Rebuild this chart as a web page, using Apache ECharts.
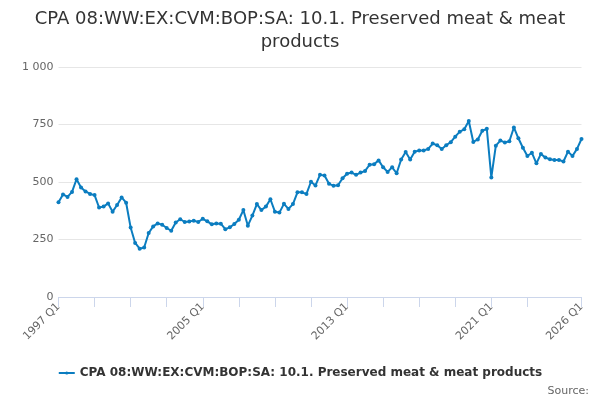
<!DOCTYPE html>
<html>
<head>
<meta charset="utf-8">
<script src="https://cdn.jsdelivr.net/npm/echarts@6/dist/echarts.min.js"></script>
<style>
  html, body { margin: 0; padding: 0; background: #fff; }
  #chart { width: 600px; height: 400px; }
</style>
</head>
<body>
<div id="chart"></div>
<script>
// quarters 1997 Q1 .. 2026 Q1
const quarters = [];
for (let y = 1997; y <= 2026; y++) {
  for (let q = 1; q <= 4; q++) {
    if (y === 2026 && q > 1) break;
    quarters.push(y + ' Q' + q);
  }
}

const seriesName = 'CPA 08:WW:EX:CVM:BOP:SA: 10.1. Preserved meat & meat products';

const values = [
  412, 446, 435, 457, 512, 476, 459, 448, 443, 389, 393, 407, 371, 400, 433, 410,
  302, 235, 210, 215, 278, 307, 320, 314, 300, 288, 324, 338, 326, 328, 332, 326,
  340, 329, 316, 320, 319, 295, 303, 317, 336, 378, 310, 354, 404, 378, 393, 425,
  371, 367, 405, 383, 404, 455, 455, 448, 501, 485, 531, 528, 492, 484, 486, 516,
  536, 541, 531, 541, 548, 575, 577, 594, 564, 544, 564, 538, 598, 630, 598, 632,
  637, 637, 644, 667, 660, 643, 660, 673, 697, 719, 729, 765, 674, 685, 723, 731,
  520, 658, 680, 672, 677, 737, 690, 649, 613, 627, 581, 622, 606, 599, 596, 596,
  589, 632, 613, 644, 687
];

const yTicks = [0, 250, 500, 750, 1000];
const lastIdx = quarters.length - 1;

const chart = echarts.init(document.getElementById('chart'));

chart.setOption({
  animation: false,
  textStyle: { fontFamily: 'DejaVu Sans' },
  title: {
    text: 'CPA 08:WW:EX:CVM:BOP:SA: 10.1. Preserved meat & meat\nproducts',
    left: 'center',
    top: 3,
    textStyle: { fontSize: 18, fontWeight: 'normal', color: '#333333', lineHeight: 23 }
  },
  grid: { left: 58.5, right: 18.5, top: 67, bottom: 103 },
  xAxis: {
    type: 'category',
    data: quarters,
    boundaryGap: false,
    axisLine: { lineStyle: { color: '#ccd6eb' } },
    axisTick: {
      length: 10,
      lineStyle: { color: '#ccd6eb' },
      interval: (i) => (i % 8 === 0 && i < 112) || i === lastIdx
    },
    axisLabel: {
      rotate: 45,
      margin: 8,
      color: '#666666',
      fontSize: 11,
      interval: (i) => i % 32 === 0 || i === lastIdx
    },
    splitLine: { show: false }
  },
  yAxis: {
    type: 'value',
    min: yTicks[0],
    max: yTicks[yTicks.length - 1],
    interval: 250,
    axisLine: { show: false },
    axisTick: { show: false },
    axisLabel: {
      color: '#666666',
      fontSize: 11,
      margin: 5,
      formatter: (v) => v >= 1000 ? String(v).replace(/(\d)(?=(\d{3})+$)/, '$1 ') : String(v)
    },
    splitLine: { lineStyle: { color: '#e6e6e6' } }
  },
  legend: {
    data: [seriesName],
    bottom: 16,
    left: 'center',
    itemWidth: 16,
    itemHeight: 4,
    itemGap: 6,
    textStyle: { fontSize: 12, fontWeight: 'bold', color: '#333333' }
  },
  graphic: [{
    type: 'text',
    right: 11,
    bottom: 3,
    style: { text: 'Source:', fontSize: 11, fill: '#666666', fontFamily: 'DejaVu Sans' }
  }],
  series: [{
    name: seriesName,
    type: 'line',
    data: values,
    symbol: 'circle',
    symbolSize: 4,
    showAllSymbol: true,
    lineStyle: { width: 2, color: '#0b7dc0' },
    itemStyle: { color: '#0b7dc0' }
  }]
});
</script>
</body>
</html>
